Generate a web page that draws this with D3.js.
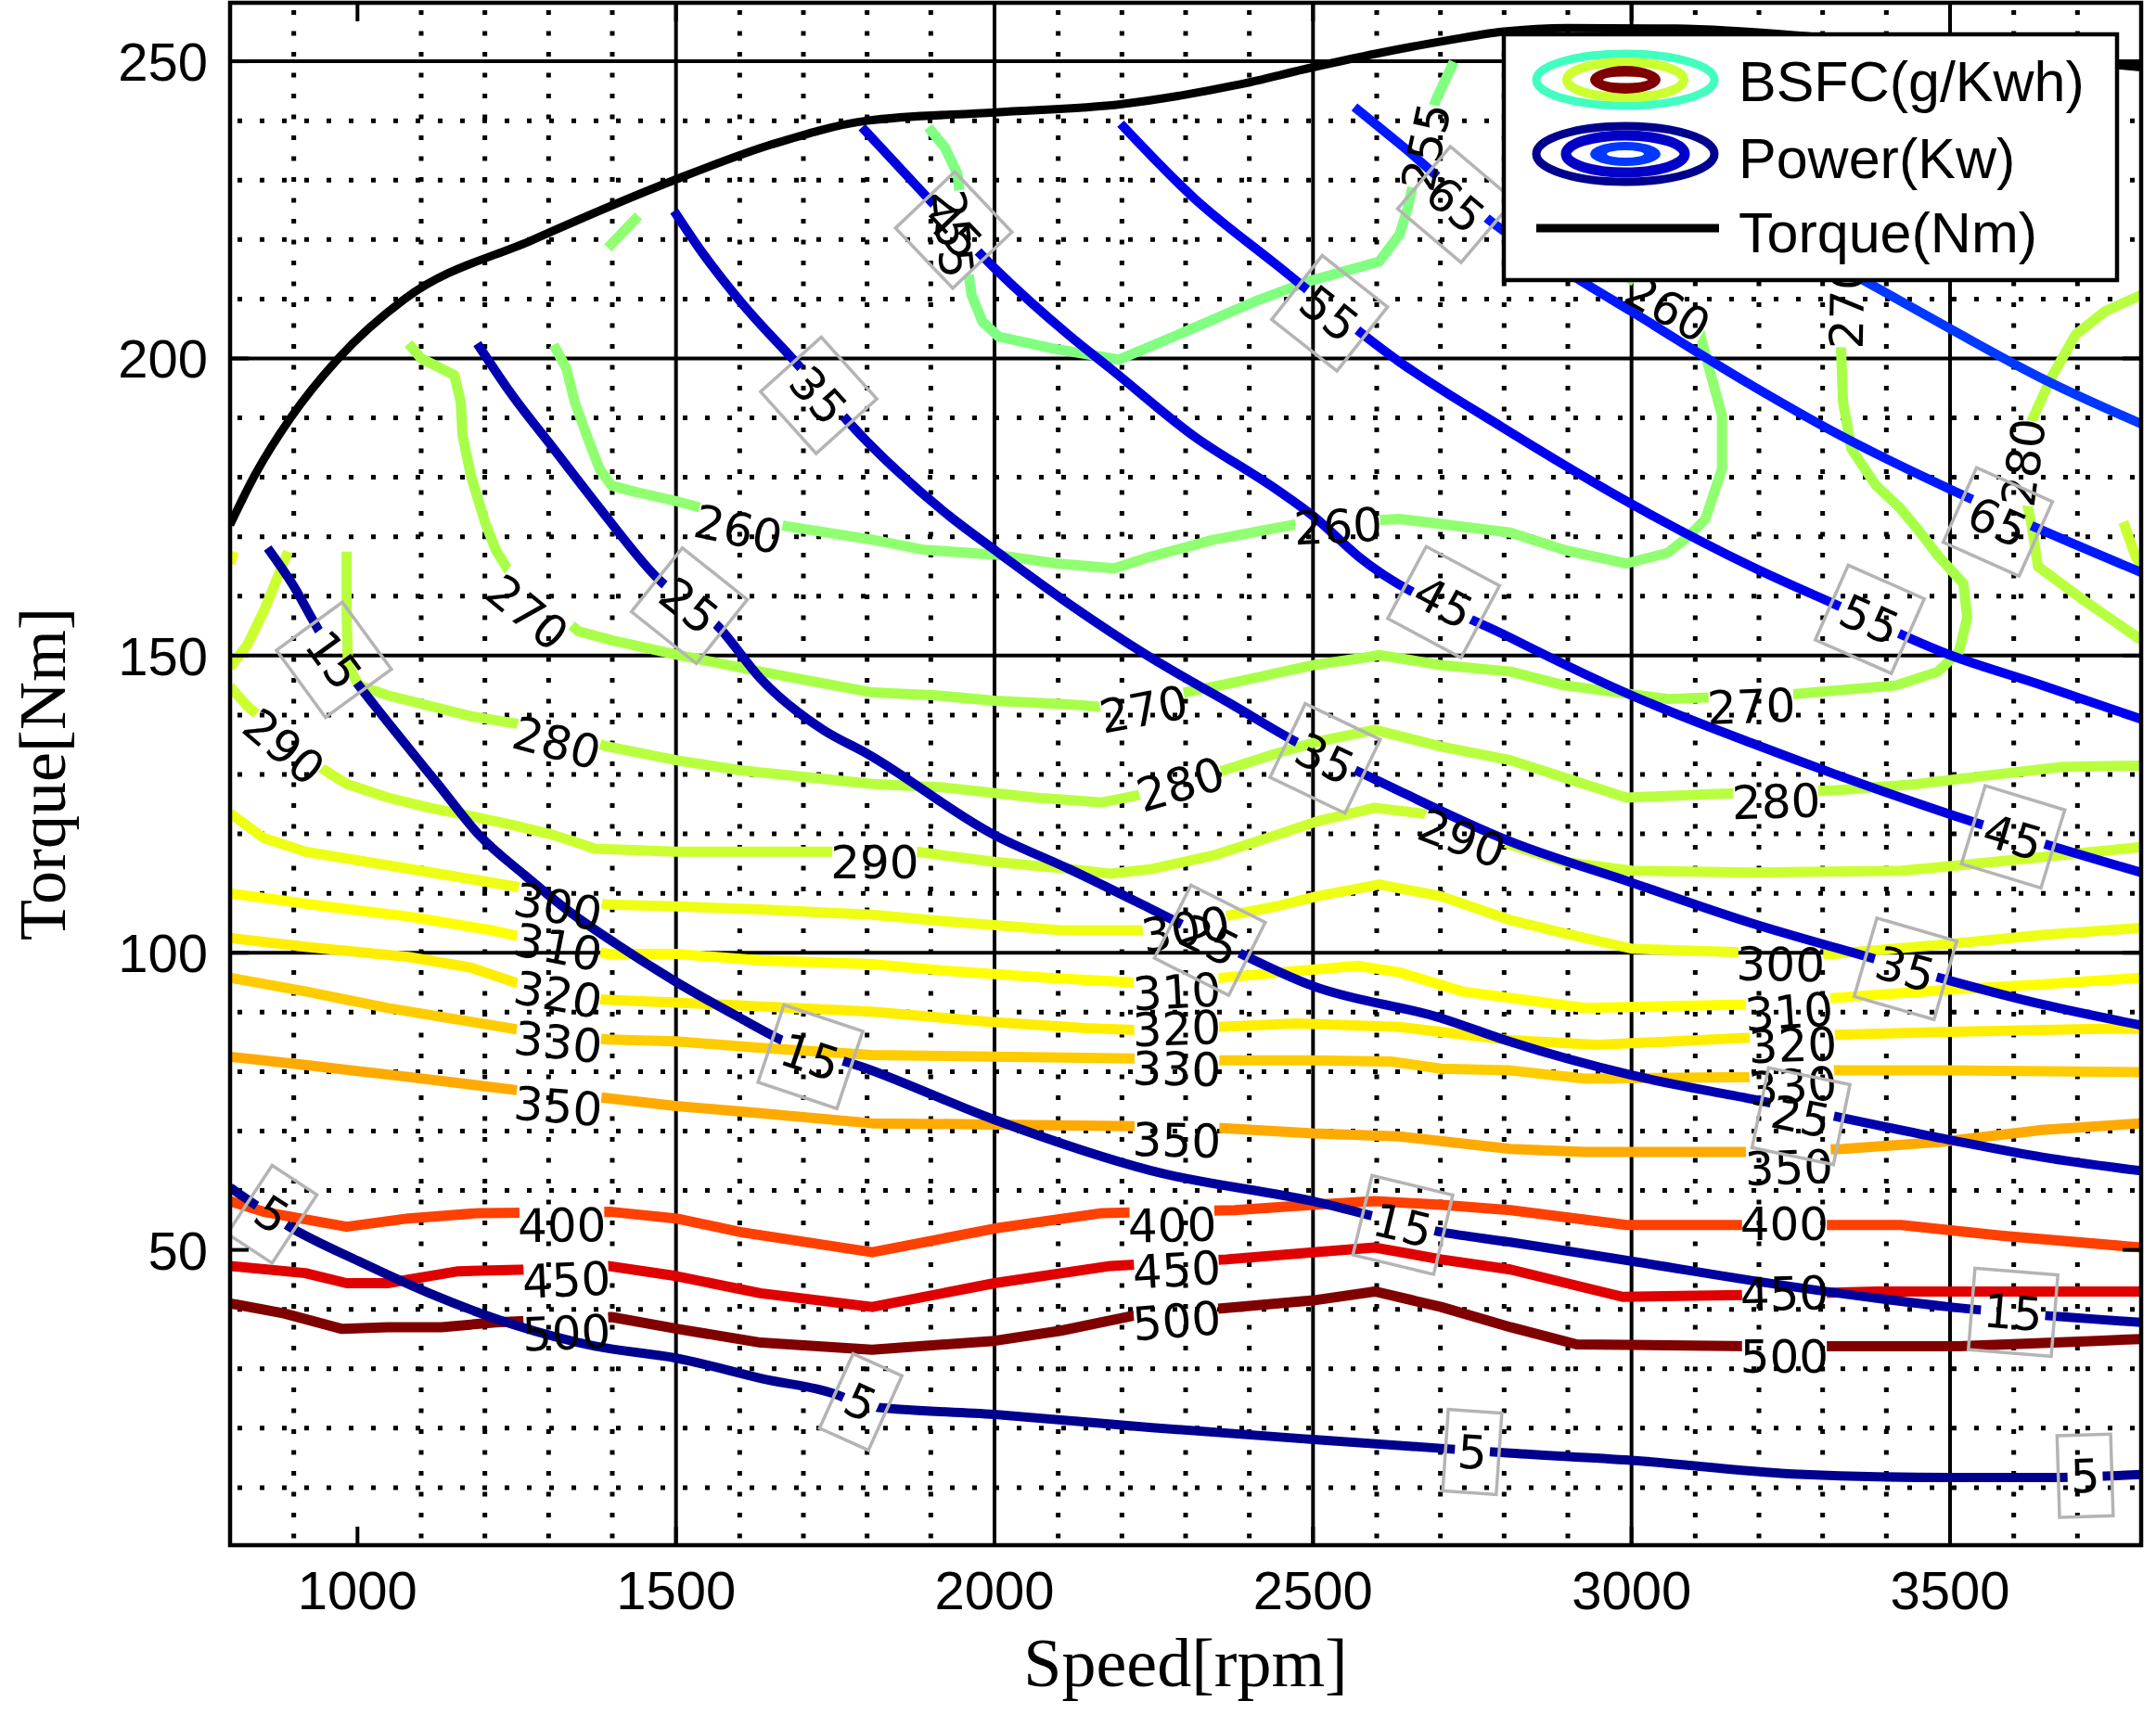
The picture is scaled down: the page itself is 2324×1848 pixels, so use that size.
<!DOCTYPE html>
<html>
<head>
<meta charset="utf-8">
<script src="https://cdn.jsdelivr.net/npm/d3@7"></script>
<style>
  body { margin: 0; background: #fff; }
  svg { display: block; }
</style>
</head>
<body>
<svg id="chart" width="2324" height="1848"></svg>
<script>
// ---- data (speed in rpm, torque in Nm) ----
const xTicks = [1000, 1500, 2000, 2500, 3000, 3500];
const yTicks = [50, 100, 150, 200, 250];
const gridRpm = [1500, 2000, 2500, 3000, 3500];
const gridNm = [100, 150, 200, 250];

const torqueCurve = [[800,172],[837,180],[895,190],[970,200],[1074,210],[1276,220],[1497,230],[1650,236],
  [1800,240],[2000,241.4],[2200,242.8],[2380,246],[2500,249],[2600,251.3],[2700,253.3],[2800,255],
  [2900,255.6],[3070,255.5],[3300,254],[3500,252],[3700,250],[3800,249]];

const bsfcLevels = [255, 260, 270, 280, 290, 300, 310, 320, 330, 350, 400, 450, 500];
const bsfcColors = ['#80ff80','#90ff70','#a8ff48','#b8ff40','#ccff30','#eeff14','#ffff00','#ffee00','#ffcc00','#ffaa00','#ff4000','#e00000','#800000'];

const bsfc255 = [[[1896,238.9],[1922,235.5],[1942,231],[1958,215.2],[1964,210.7],[1981,206.2],[2006,203.7],[2091,201.7],
  [2195,199.8],[2286,203.9],[2409,209.6],[2494,213],[2604,216.3],[2636,220.9],[2649,225.4],[2675,238.3],[2695,244],[2721,249.9]]];
const bsfc260 = [
  [[1308,202.3],[1328,198.3],[1341,192.7],[1360,187],[1380,181.4],[1399,178.6],[1438,177.5],[1500,176],[1549,174.6],
   [1672,171.8],[1808,169.5],[1890,167.8],[2000,167],[2097,165.5],[2188,164.7],[2247,166.7],[2344,169.5],[2474,172.1],
   [2636,173],[2810,170.7],[2894,167.8],[2992,165.5],[3057,167.3],[3090,170.1],[3116,173],[3142,181.4],[3142,190.4],
   [3116,200.6],[3103,206.2],[3057,209],[2990,214],[2930,220]],
  [[1393,218.6],[1441,224]]];
const bsfc270 = [[[1080,202.5],[1100,200],[1152,197.2],[1162,192.7],[1165,187],[1178,180.3],[1200,172.5],[1217,167.8],
  [1243,163.3],[1347,154.1],[1406,152.4],[1503,150.1],[1633,147.3],[1808,143.8],[1909,143.3],[2000,142.4],[2117,141.8],
  [2175,141.3],[2299,143.8],[2377,145.5],[2500,148.4],[2571,149.5],[2604,150.1],[2701,148.4],[2810,147.3],[2894,145],
  [3057,142.7],[3253,143.5],[3416,145],[3481,147.3],[3514,150.7],[3527,156.4],[3521,162.1],[3482,166.7],[3449,171.3],
  [3420,175],[3384,178.6],[3345,184.8],[3332,192.7],[3328,204],[3330,215],[3335,230]]];
const bsfc280 = [
  [[983,167.5],[983,157],[985,148.4],[1002,145],[1048,143.3],[1178,139.8],[1275,138.1],[1393,134.7],[1500,132.4],
   [1601,130.7],[1808,128.4],[1922,127.8],[2065,126.1],[2169,125.3],[2234,126.7],[2351,130.4],[2442,133.5],[2506,135.5],
   [2597,137.5],[2701,134.7],[2810,132.4],[2894,129.5],[2992,126.1],[3123,126.7],[3318,127.3],[3449,128.4],[3580,130.1],
   [3678,131.3],[3800,131.5]],
  [[3800,210.7],[3743,207.9],[3697,204],[3658,196.6],[3622,188],[3615,182.5],[3622,175],[3628,172],[3638,165],
   [3710,159.3],[3795,153],[3800,152.6]]];
const bsfc290 = [
  [[891,167.5],[853,157.5],[827,151.8],[800,148]],
  [[800,144.8],[827,141.5],[937,131.5],[983,128.4],[1048,126.1],[1113,124.4],[1178,123],[1243,121.5],[1308,119.8],
   [1373,117.5],[1500,117],[1744,117],[1877,117],[2000,115.3],[2117,114.1],[2182,113.3],[2247,114.1],[2344,116.4],
   [2442,119.8],[2506,122.1],[2597,124.4],[2682,123.3],[2796,118.7],[2829,117.5],[2894,115.3],[3000,113.8],[3188,113.5],
   [3423,113.8],[3514,114.7],[3645,116.1],[3800,117.8]],
  [[3772,172.5],[3790,167],[3800,165]]];
const bsfc300 = [
  [[800,123.5],[853,119.3],[918,117],[1048,114.7],[1178,112.4],[1256,111],[1393,108.1],[1500,107.8],[1633,107.3],
   [1808,106.4],[1922,105.3],[2104,103.8],[2234,103.8],[2344,105.8],[2442,107.8],[2506,109.5],[2604,111.5],[2701,109.5],
   [2810,105.5],[2894,103.3],[3000,100.7],[3162,100.1],[3318,99.8],[3500,101.5],[3645,103],[3800,104.2]],
  [[800,165.5],[806,167.5]]];
const bsfc310 = [[[800,110],[950,107.8],[1080,106.1],[1210,103.8],[1256,102.7],[1393,99.8],[1500,99.8],[1633,98.7],
  [1808,98.1],[1922,97],[2084,95.8],[2221,95],[2357,95.8],[2481,97],[2571,97.8],[2636,96.7],[2734,93.5],[2810,92.4],
  [2927,90.7],[3175,91.3],[3318,92.4],[3500,93.8],[3645,94.7],[3800,95.8]]];
const bsfc320 = [[[800,102.5],[918,101],[1080,99.3],[1178,97.5],[1256,94.7],[1386,92.1],[1568,91.3],[1808,90.1],
  [1987,88.4],[2143,87.3],[2221,87],[2351,87.5],[2474,88.1],[2636,87.5],[2810,85.3],[2946,84.5],[3188,85.7],
  [3318,86.2],[3500,86.7],[3736,87.2],[3800,87.2]]];
const bsfc330 = [[[800,95.8],[918,93.5],[1048,90.7],[1178,88.4],[1256,87],[1393,85.4],[1500,85.1],[1633,84],
  [1808,82.8],[2000,82.5],[2221,82.2],[2357,81.9],[2500,81.9],[2623,81.7],[2701,80.5],[2810,80.2],[2927,78.8],
  [3188,79.1],[3318,80.2],[3500,80.2],[3800,79.9]]];
const bsfc350 = [[[800,82.5],[918,81.1],[1080,79.1],[1256,76.8],[1386,75.6],[1500,74.2],[1633,73],[1808,71.3],
  [2000,71.1],[2221,70.8],[2357,70.5],[2500,69.6],[2636,69.1],[2810,67],[2927,66.5],[3188,66.5],[3332,67],
  [3488,68.2],[3645,70.2],[3800,71.3]]];
const bsfc400 = [[[800,58.2],[853,56.4],[983,53.9],[1080,55.3],[1191,56.2],[1399,56.4],[1500,55.3],[1601,53],
  [1808,49.6],[2000,53.6],[2169,56.2],[2377,56.7],[2500,57.6],[2597,58.2],[2701,57.6],[2810,56.7],[2992,54.2],
  [3423,54.2],[3580,52.4],[3800,50.4]]];
const bsfc450 = [[[800,47.3],[918,46.1],[983,44.4],[1047,44.4],[1158,46.4],[1269,46.7],[1393,47.3],[1500,45.6],
  [1633,42.7],[1808,40.4],[2000,44.4],[2182,47.3],[2364,48.4],[2500,49.6],[2597,50.4],[2701,48.4],[2810,46.7],
  [2986,42.1],[3175,42.4],[3384,43],[3800,43]]];
const bsfc500 = [[[800,41],[885,39.3],[976,36.7],[1047,37],[1132,37],[1217,37.8],[1399,38.7],[1503,36.7],[1633,34.4],
  [1808,33.2],[2000,34.7],[2104,36.4],[2221,39],[2351,40.1],[2500,41.5],[2597,43],[2701,40.4],[2810,37],[2914,34.1],
  [3188,33.8],[3513,33.8],[3730,34.7],[3800,35]]];

const bsfcLabelPos = [
  [255,1935,221],[255,2677,235.6],
  [260,1598,171.3],[260,2539,171.8],[260,3057,208.5],
  [270,1267,157.3],[270,2234,141],[270,3188,141.5],[270,3338,209],
  [280,1313,135.4],[280,2292,128.4],[280,3227,125.5],[280,3615,182.5],
  [290,885,134.7],[290,1812,115.3],[290,2734,119.3],
  [300,1315,107.8],[300,2300,104],[300,3234,98.1],
  [310,1315,101],[310,2286,93.5],[310,3247,90.1],
  [320,1315,93],[320,2286,87.3],[320,3253,84.5],
  [330,1315,85],[330,2286,80.5],[330,3253,77.6],
  [350,1315,74.2],[350,2286,68.5],[350,3247,63.9],
  [400,1321,54.2],[400,2279,54.2],[400,3240,54.4],
  [450,1328,45],[450,2286,46.7],[450,3240,42.7],
  [500,1328,36.1],[500,2286,38.1],[500,3240,32.1]];

const powerLevels = [5, 15, 25, 35, 45, 55, 65, 75];
const powerColors = ['#00008f','#00009f','#0000b0','#0000c4','#0000dc','#0000f0','#0018ff','#0038ff'];
const power5 = [[800,60.5],[898,53.6],[1002,48.1],[1113,42.7],[1243,37.5],[1373,33.8],[1500,31.8],[1633,28.4],
  [1763,25.2],[1792,23.8],[2000,22.3],[2247,20.1],[2500,18.1],[2701,16.6],[2810,15.8],[3000,14.6],[3253,12.3],
  [3500,11.7],[3650,11.7],[3800,12.2]];
const power15 = [[859,168.1],[898,162],[940,154.1],[1002,145],[1061,137],[1126,128.4],[1191,119.8],[1263,113],
  [1328,107.3],[1406,101.5],[1497,95.3],[1601,89],[1666,85.3],[1800,80.5],[2000,71.9],[2247,63.3],[2500,58.2],
  [2701,53],[2810,51.3],[3000,48.1],[3253,43.8],[3500,40.4],[3800,37.8]];
const power25 = [[1188,202.5],[1243,193.8],[1308,184.8],[1373,175.8],[1471,163],[1568,154.7],[1633,146.1],
  [1731,137.5],[1800,133.5],[2000,119.8],[2117,114.1],[2247,107.3],[2344,102.1],[2500,94.4],[2701,89],[2810,85],
  [3000,79.4],[3188,75.4],[3500,68.5],[3645,65.6],[3800,63.3]];
const power35 = [[1497,224.8],[1536,218.6],[1601,209.6],[1685,199.7],[1800,186],[1929,173.5],[2000,167.8],
  [2117,158.7],[2240,150],[2377,141.5],[2468,135.8],[2591,129.5],[2810,118.7],[3000,111.8],[3188,105],[3371,99.3],
  [3500,95.3],[3645,91.3],[3800,87.8]];
const power45 = [[1792,238.9],[1890,227.6],[2000,215.2],[2117,203.9],[2182,198.3],[2312,187],[2442,178],[2500,173.5],
  [2571,166.7],[2810,153],[3000,143.3],[3188,135.3],[3318,130.1],[3500,123.3],[3800,113.5]];
const power55 = [[2198,239.5],[2312,227.1],[2442,215.8],[2636,199.4],[2796,188.5],[3000,175.5],[3188,165],
  [3318,158.7],[3500,150.1],[3645,145],[3800,139.3]];
const power65 = [[2565,242.3],[2636,236.1],[2786,222.5],[2914,213.5],[3000,207.9],[3188,195.5],[3318,187.6],
  [3500,178],[3625,172],[3800,164]];
const power75 = [[3350,214],[3500,205],[3645,196.6],[3800,189]];

const powerLabelPos = [
  [5,866,56],[5,1790,24.4],[5,2750,16],[5,3712,12],
  [15,963,149.3],[15,1711,82.5],[15,2641,54.2],[15,3599,39.5],
  [25,1521,158.4],[25,2338,102.1],[25,3266,72.5],
  [35,1724,193.8],[35,2519,132.7],[35,3430,97.3],
  [45,1936,221.6],[45,2705,159],[45,3599,119.5],
  [55,2526,207.6],[55,3374,156.1],
  [65,2724,225.9],[65,3575,172.5]];

// ---- layout ----
const W = 2324, H = 1848;
const x = d3.scaleLinear().domain([800, 3800]).range([248, 2308]);
const y = d3.scaleLinear().domain([0, 260]).range([1668, 2]);
const frame = { x0: 248, x1: 2308, y0: 3, y1: 1666 };
const labelFont = 50, digitW = 0.636 * labelFont;

const bsfcTable = bsfcLevels.map((lv, i) => ({
  level: lv, color: bsfcColors[i],
  pieces: [bsfc255, bsfc260, bsfc270, bsfc280, bsfc290, bsfc300, bsfc310, bsfc320, bsfc330, bsfc350, bsfc400, bsfc450, bsfc500][i]
}));
const powerTable = powerLevels.map((lv, i) => ({
  level: lv, color: powerColors[i],
  pieces: [[power5, power15, power25, power35, power45, power55, power65, power75][i]]
}));

const svg = d3.select('#chart');
const defs = svg.append('defs');
defs.append('clipPath').attr('id', 'plotClip').append('rect')
  .attr('x', frame.x0).attr('y', frame.y0)
  .attr('width', frame.x1 - frame.x0).attr('height', frame.y1 - frame.y0);

// angle of the line under a label (screen degrees, kept readable)
function lineAngle(pieces, px, py) {
  let best = Infinity, ang = 0;
  pieces.forEach(pts => {
    for (let i = 0; i < pts.length - 1; i++) {
      const ax = x(pts[i][0]), ay = y(pts[i][1]), bx = x(pts[i + 1][0]), by = y(pts[i + 1][1]);
      const dx = bx - ax, dy = by - ay, l2 = dx * dx + dy * dy;
      let t = l2 ? ((px - ax) * dx + (py - ay) * dy) / l2 : 0;
      t = Math.max(0, Math.min(1, t));
      const d = Math.hypot(px - (ax + t * dx), py - (ay + t * dy));
      if (d < best) { best = d; ang = Math.atan2(dy, dx) * 180 / Math.PI; }
    }
  });
  if (ang > 90) ang -= 180;
  if (ang < -90) ang += 180;
  return ang;
}

function placeLabels(table, positions) {
  return positions.map(([lv, rpm, nm]) => {
    const row = table.find(r => r.level === lv);
    const px = x(rpm), py = y(nm);
    return { level: lv, text: String(lv), px, py, angle: lineAngle(row.pieces, px, py) };
  });
}
const bsfcLabels = placeLabels(bsfcTable, bsfcLabelPos);
const powerLabels = placeLabels(powerTable, powerLabelPos);

// masks that open gaps in each contour under its own labels
function makeMask(id, labels, w, h, off) {
  const m = defs.append('mask').attr('id', id).attr('maskUnits', 'userSpaceOnUse')
    .attr('x', 0).attr('y', 0).attr('width', W).attr('height', H);
  m.append('rect').attr('width', W).attr('height', H).attr('fill', '#fff');
  labels.forEach(l => {
    const lw = w(l.text);
    m.append('rect').attr('x', -lw / 2).attr('y', -h / 2 + off).attr('width', lw).attr('height', h)
      .attr('fill', '#000').attr('transform', `translate(${l.px},${l.py}) rotate(${l.angle})`);
  });
}
bsfcTable.forEach(r => makeMask('mb' + r.level, bsfcLabels.filter(l => l.level === r.level), t => t.length * digitW - 4, 50, -6));
powerTable.forEach(r => makeMask('mp' + r.level, powerLabels.filter(l => l.level === r.level), t => t.length * digitW + 6, 44, 0));

// ---- grid ----
const grid = svg.append('g');
const minorRpm = d3.range(900, 3800, 100).filter(v => v % 500 !== 0);
const minorNm = d3.range(10, 260, 10).filter(v => v % 50 !== 0);
grid.selectAll('.mv').data(minorRpm).enter().append('line')
  .attr('x1', d => x(d)).attr('x2', d => x(d)).attr('y1', frame.y0 + 8).attr('y2', frame.y1)
  .attr('stroke', '#000').attr('stroke-width', 5).attr('stroke-dasharray', '5,17.5');
grid.selectAll('.mh').data(minorNm).enter().append('line')
  .attr('y1', d => y(d)).attr('y2', d => y(d)).attr('x1', frame.x0 + 8).attr('x2', frame.x1)
  .attr('stroke', '#000').attr('stroke-width', 5).attr('stroke-dasharray', '5,19');
grid.selectAll('.gv').data(gridRpm).enter().append('line')
  .attr('x1', d => x(d)).attr('x2', d => x(d)).attr('y1', frame.y0).attr('y2', frame.y1)
  .attr('stroke', '#000').attr('stroke-width', 4);
grid.selectAll('.gh').data(gridNm).enter().append('line')
  .attr('y1', d => y(d)).attr('y2', d => y(d)).attr('x1', frame.x0).attr('x2', frame.x1)
  .attr('stroke', '#000').attr('stroke-width', 4);

// ---- contour lines ----
const plotG = svg.append('g').attr('clip-path', 'url(#plotClip)');
const straight = d3.line().x(d => x(d[0])).y(d => y(d[1]));
const smooth = d3.line().x(d => x(d[0])).y(d => y(d[1])).curve(d3.curveMonotoneX);

bsfcTable.forEach(r => {
  plotG.append('g').attr('mask', `url(#mb${r.level})`)
    .selectAll('path').data(r.pieces).enter().append('path')
    .attr('d', straight).attr('fill', 'none').attr('stroke', r.color)
    .attr('stroke-width', 11).attr('stroke-linejoin', 'round');
});
powerTable.forEach(r => {
  plotG.append('g').attr('mask', `url(#mp${r.level})`)
    .selectAll('path').data(r.pieces).enter().append('path')
    .attr('d', smooth).attr('fill', 'none').attr('stroke', r.color)
    .attr('stroke-width', 10).attr('stroke-linejoin', 'round');
});
plotG.append('path').datum(torqueCurve).attr('d', smooth)
  .attr('fill', 'none').attr('stroke', '#000').attr('stroke-width', 9);

// ---- contour labels ----
const labG = plotG.append('g').attr('font-family', 'DejaVu Sans').attr('font-size', labelFont);
labG.selectAll('.bl').data(bsfcLabels).enter().append('text')
  .attr('transform', d => `translate(${d.px},${d.py}) rotate(${d.angle})`)
  .attr('text-anchor', 'middle').attr('dy', '0.36em').attr('fill', '#000').text(d => d.text);
const pl = labG.selectAll('.pl').data(powerLabels).enter().append('g')
  .attr('transform', d => `translate(${d.px},${d.py}) rotate(${d.angle})`);
pl.append('rect')
  .attr('x', d => -(d.text.length * digitW + 26) / 2).attr('y', -44)
  .attr('width', d => d.text.length * digitW + 26).attr('height', 88)
  .attr('fill', 'none').attr('stroke', '#b4b4b4').attr('stroke-width', 3.5);
pl.append('text').attr('text-anchor', 'middle').attr('dy', '0.36em').attr('fill', '#000').text(d => d.text);

// ---- frame, ticks, tick labels ----
svg.append('rect').attr('x', frame.x0).attr('y', frame.y0)
  .attr('width', frame.x1 - frame.x0).attr('height', frame.y1 - frame.y0)
  .attr('fill', 'none').attr('stroke', '#000').attr('stroke-width', 4.5);
const ticks = svg.append('g').attr('stroke', '#000').attr('stroke-width', 4);
xTicks.forEach(v => {
  ticks.append('line').attr('x1', x(v)).attr('x2', x(v)).attr('y1', frame.y1).attr('y2', frame.y1 - 20);
  ticks.append('line').attr('x1', x(v)).attr('x2', x(v)).attr('y1', frame.y0).attr('y2', frame.y0 + 20);
});
yTicks.forEach(v => {
  ticks.append('line').attr('y1', y(v)).attr('y2', y(v)).attr('x1', frame.x0).attr('x2', frame.x0 + 20);
  ticks.append('line').attr('y1', y(v)).attr('y2', y(v)).attr('x1', frame.x1).attr('x2', frame.x1 - 20);
});
svg.append('g').attr('font-family', 'Liberation Sans').attr('font-size', 58)
  .selectAll('text').data(xTicks).enter().append('text')
  .attr('x', d => x(d)).attr('y', 1735).attr('text-anchor', 'middle').text(d => d);
svg.append('g').attr('font-family', 'Liberation Sans').attr('font-size', 58)
  .selectAll('text').data(yTicks).enter().append('text')
  .attr('x', 224).attr('y', d => y(d) + 21).attr('text-anchor', 'end').text(d => d);

svg.append('text').attr('x', (frame.x0 + frame.x1) / 2).attr('y', 1818)
  .attr('text-anchor', 'middle').attr('font-family', 'Liberation Serif').attr('font-size', 74)
  .text('Speed[rpm]');
svg.append('text').attr('transform', `translate(70,${(frame.y0 + frame.y1) / 2}) rotate(-90)`)
  .attr('text-anchor', 'middle').attr('font-family', 'Liberation Serif').attr('font-size', 72)
  .text('Torque[Nm]');

// ---- legend ----
const lg = svg.append('g');
lg.append('rect').attr('x', 1621).attr('y', 37).attr('width', 661).attr('height', 265)
  .attr('fill', '#fff').attr('stroke', '#000').attr('stroke-width', 4.5);
const bi = lg.append('g').attr('transform', 'translate(1752,86)');
bi.append('ellipse').attr('rx', 96).attr('ry', 28).attr('fill', 'none').attr('stroke', '#40ffc0').attr('stroke-width', 9);
bi.append('ellipse').attr('rx', 63).attr('ry', 19).attr('fill', 'none').attr('stroke', '#ccff30').attr('stroke-width', 10);
bi.append('ellipse').attr('rx', 38).attr('ry', 15).attr('fill', '#800000');
bi.append('ellipse').attr('rx', 24).attr('ry', 3.5).attr('fill', '#fff');
const pi = lg.append('g').attr('transform', 'translate(1752,166)');
pi.append('ellipse').attr('rx', 96).attr('ry', 30).attr('fill', 'none').attr('stroke', '#00008f').attr('stroke-width', 9);
pi.append('ellipse').attr('rx', 64).attr('ry', 20).attr('fill', 'none').attr('stroke', '#0000c8').attr('stroke-width', 11);
pi.append('ellipse').attr('rx', 38).attr('ry', 13).attr('fill', '#0038ff');
pi.append('ellipse').attr('rx', 20).attr('ry', 4).attr('fill', '#fff');
lg.append('line').attr('x1', 1656).attr('x2', 1853).attr('y1', 246).attr('y2', 246)
  .attr('stroke', '#000').attr('stroke-width', 9);
lg.selectAll('.lt').data(['BSFC(g/Kwh)', 'Power(Kw)', 'Torque(Nm)']).enter().append('text')
  .attr('x', 1874).attr('y', (d, i) => [109, 192, 272][i])
  .attr('font-family', 'Liberation Sans').attr('font-size', 61).text(d => d);
</script>
</body>
</html>
